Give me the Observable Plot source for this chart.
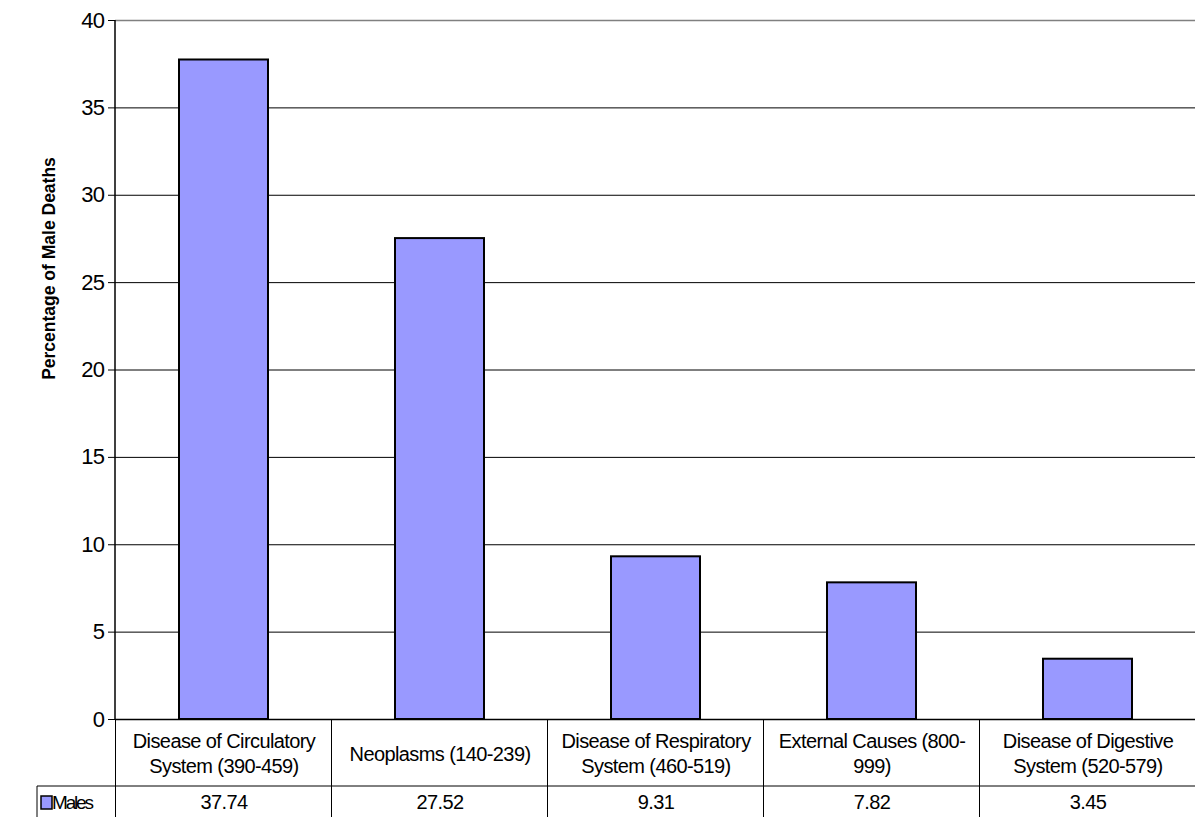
<!DOCTYPE html>
<html>
<head>
<meta charset="utf-8">
<script src="https://cdn.jsdelivr.net/npm/d3@7"></script>
<script src="https://cdn.jsdelivr.net/npm/@observablehq/plot@0.6"></script>
<style>
  html, body { margin: 0; padding: 0; background: #fff; }
  #chart svg { display: block; }
</style>
</head>
<body>
<div id="chart"></div>
<script>
const categories = [
  "Disease of Circulatory\nSystem (390-459)",
  "Neoplasms (140-239)",
  "Disease of Respiratory\nSystem (460-519)",
  "External Causes (800-\n999)",
  "Disease of Digestive\nSystem (520-579)"
];
const males = [37.74, 27.52, 9.31, 7.82, 3.45];
const seriesName = "Males";
const yTicks = [0, 5, 10, 15, 20, 25, 30, 35, 40];
const yTitle = "Percentage of Male Deaths";

const data = categories.map((c, i) => ({category: c, value: males[i]}));

const W = 1195, H = 817;
const mL = 115, mR = 0, mT = 20, mB = 98;
const font = "Liberation Sans, Arial, sans-serif";

const plot = Plot.plot({
  width: W,
  height: H,
  marginLeft: mL,
  marginRight: mR,
  marginTop: mT,
  marginBottom: mB,
  style: {fontFamily: font, background: "#fff", color: "#000"},
  x: {domain: categories, paddingInner: 0.59, paddingOuter: 0.295, axis: null},
  y: {domain: [0, 40], axis: null},
  marks: [
    Plot.ruleY(yTicks.filter(t => t > 0 && t < 40), {stroke: "#000", strokeWidth: 1}),
    Plot.ruleY([40], {stroke: "#808080", strokeWidth: 1.5}),
    Plot.barY(data, {x: "category", y: "value", fill: "#9999FF", stroke: "#000", strokeWidth: 2}),
    Plot.ruleY([0], {stroke: "#000", strokeWidth: 1.5}),
    Plot.axisY({ticks: yTicks, tickSize: 7, tickPadding: 4, label: null, tickFormat: d => d}),
    Plot.text(data, {x: "category", text: "category", frameAnchor: "bottom", dy: 33,
      fontSize: 20, lineHeight: 1.28, lineAnchor: "middle", fill: "#000"}),
    Plot.text(data, {x: "category", text: d => d.value.toFixed(2), frameAnchor: "bottom", dy: 83,
      fontSize: 20, lineAnchor: "middle", fill: "#000"})
  ]
});

const svg = d3.select(plot);
svg.selectAll("text").style("letter-spacing", "-0.6px").style("font-size", "20px");
// y tick labels
svg.selectAll("g[aria-label^='y-axis'] text")
  .style("font-size", "22px").style("letter-spacing", "-0.6px");

const xs = plot.scale("x");
const ys = plot.scale("y");
const step = (W - mL - mR) / categories.length;
const bw = xs.bandwidth || 0;
const y0 = ys.apply(0);
const y40 = ys.apply(40);
const rowY = y0 + 67;
const g = svg.append("g").attr("stroke", "#000").attr("stroke-width", 1);

// y axis line
g.append("line").attr("x1", mL).attr("x2", mL).attr("y1", y40).attr("y2", y0).attr("stroke-width", 1.5);
// table column lines
categories.forEach((c, i) => {
  const cx = xs.apply(c) + bw / 2;
  const xl = cx - step / 2;
  g.append("line").attr("x1", xl).attr("x2", xl).attr("y1", y0).attr("y2", H).attr("stroke", "#000");
});
// row separator
g.append("line").attr("x1", 37).attr("x2", W).attr("y1", rowY).attr("y2", rowY).attr("stroke", "#000");
// series cell left border
g.append("line").attr("x1", 37).attr("x2", 37).attr("y1", rowY).attr("y2", H).attr("stroke", "#000");
// legend key
svg.append("rect").attr("x", 41).attr("y", rowY + 10).attr("width", 11).attr("height", 13)
  .attr("fill", "#9999FF").attr("stroke", "#000").attr("stroke-width", 1.5);
svg.append("text").attr("x", 52).attr("y", rowY + 23)
  .attr("text-anchor", "start")
  .attr("font-family", font).style("font-size", "19px").style("letter-spacing", "-2.2px").text(seriesName);
// y title
svg.append("text").attr("transform", `translate(55,${(y40 + y0) / 2 - 101}) rotate(-90)`)
  .attr("text-anchor", "middle").style("font-size", "17.5px").attr("font-weight", "bold")
  .attr("font-family", font).text(yTitle);

document.getElementById("chart").appendChild(plot);
</script>
</body>
</html>
